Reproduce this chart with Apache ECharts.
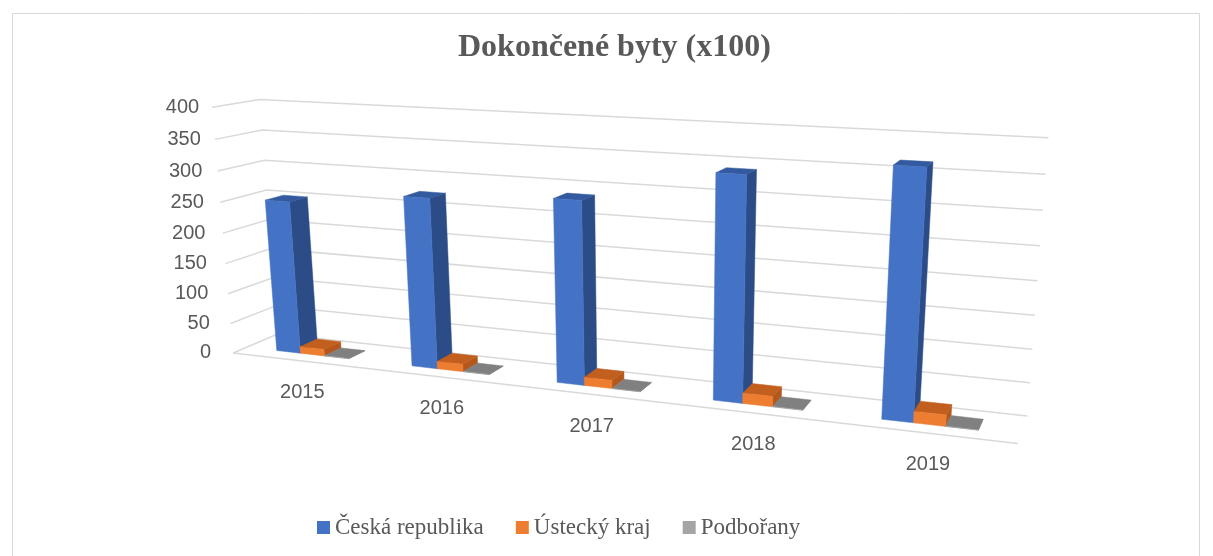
<!DOCTYPE html>
<html><head><meta charset="utf-8">
<script src="https://cdn.jsdelivr.net/npm/echarts/dist/echarts.min.js"></script>
<style>html,body{margin:0;padding:0;background:#fff}#chart{width:1213px;height:556px}</style>
</head><body><div id="chart"></div>
<script>
// ---------- data ----------
const years = ['2015', '2016', '2017', '2018', '2019'];
const ceskaRepublika = [251, 273, 286, 339, 364];
const usteckyKraj = [11, 12, 13, 16, 17];
const podborany = [0.2, 0.2, 0.2, 0.3, 0.3];
const yTicks = [0, 50, 100, 150, 200, 250, 300, 350, 400];
const seriesNames = ['Česká republika', 'Ústecký kraj', 'Podbořany'];

// ---------- 3-D box calibration (corners of walls: X category units, Y 0..1, Z depth 0..1) ----------
const frameCorners = [
  [0, 0, 0, 233, 353], [0, 0.5, 0, 223, 233], [0, 1, 0, 212, 108], [0, 1, 1, 260, 99],
  [5, 0, 0, 1018, 443], [5, 0, 1, 1027, 416], [5, 0.5, 1, 1038, 282], [5, 1, 1, 1048, 137]
];
function fitProjection(pts) {
  const cu = 640, cv = 280, s = 400;
  const A = [], b = [];
  pts.forEach(([X, Y, Z, u0, v0]) => {
    const u = (u0 - cu) / s, v = (v0 - cv) / s;
    A.push([X, Y, Z, 1, 0, 0, 0, 0, -u * X, -u * Y, -u * Z]); b.push(u);
    A.push([0, 0, 0, 0, X, Y, Z, 1, -v * X, -v * Y, -v * Z]); b.push(v);
  });
  const n = 11, M = [];
  for (let i = 0; i < n; i++) {
    M.push([]);
    for (let j = 0; j <= n; j++) {
      let sum = 0;
      for (let k = 0; k < A.length; k++) sum += A[k][i] * (j < n ? A[k][j] : b[k]);
      M[i].push(sum);
    }
  }
  for (let c = 0; c < n; c++) {
    let piv = c;
    for (let r = c + 1; r < n; r++) if (Math.abs(M[r][c]) > Math.abs(M[piv][c])) piv = r;
    const tmp = M[c]; M[c] = M[piv]; M[piv] = tmp;
    for (let r = 0; r < n; r++) {
      if (r === c) continue;
      const f = M[r][c] / M[c][c];
      for (let j = c; j <= n; j++) M[r][j] -= f * M[c][j];
    }
  }
  const p = M.map((row, i) => row[n] / row[i]);
  return (X, Y, Z) => {
    const w = p[8] * X + p[9] * Y + p[10] * Z + 1;
    return [((p[0] * X + p[1] * Y + p[2] * Z + p[3]) / w) * s + cu,
            ((p[4] * X + p[5] * Y + p[6] * Z + p[7]) / w) * s + cv];
  };
}
const P = fitProjection(frameCorners);

const BAR_W = 0.18, Z_FRONT = 0.3, Z_BACK = 0.7;
const palettes = [
  { front: '#4472C4', side: '#2B4C87', top: '#335A9E', legend: '#4472C4' },
  { front: '#ED7D31', side: '#B4571C', top: '#C25F1E', legend: '#ED7D31' },
  { front: '#A5A5A5', side: '#6F6F6F', top: '#808080', legend: '#A5A5A5' }
];
const textColor = '#595959';

function norm(params, api, idx, val) {
  const cs = params.coordSys;
  const c = api.coord([idx, val]);
  return { xc: (c[0] - cs.x) / cs.width * years.length, yn: (cs.y + cs.height - c[1]) / cs.height };
}

function renderGrid(params, api) {
  const t = api.value(1);
  const { yn } = norm(params, api, 0, t);
  const nC = years.length;
  const children = [{
    type: 'polyline', shape: { points: [P(0, yn, 0), P(0, yn, 1), P(nC, yn, 1)] },
    style: { stroke: '#D9D9D9', lineWidth: 1.5, fill: null }
  }];
  if (t === 0) {
    children.push({ type: 'polyline', shape: { points: [P(0, 0, 0), P(nC, 0, 0)] },
      style: { stroke: '#D9D9D9', lineWidth: 1.5, fill: null } });
  }
  const lp = P(0, yn, 0);
  children.push({ type: 'text', x: lp[0] - 22 + 9 * yn, y: lp[1],
    style: { text: String(t), align: 'right', verticalAlign: 'middle', fill: textColor,
             font: '20px "Liberation Sans"' } });
  return { type: 'group', children };
}

function renderCategory(params, api) {
  const idx = api.value(0);
  const { xc } = norm(params, api, idx, 0);
  const p = P(xc, 0, 0);
  return { type: 'text', x: p[0] + 3, y: p[1] + 32,
    style: { text: years[idx], align: 'center', verticalAlign: 'middle', fill: textColor,
             font: '20px "Liberation Sans"' } };
}

function makeBarRender(sIdx) {
  const pal = palettes[sIdx];
  return function (params, api) {
    const idx = api.value(0), val = api.value(1);
    const { xc, yn } = norm(params, api, idx, val);
    const x0 = xc - 1.5 * BAR_W + sIdx * BAR_W, x1 = x0 + BAR_W;
    const z0 = Z_FRONT, z1 = Z_BACK;
    const poly = (pts, fill) => ({ type: 'polygon', shape: { points: pts },
      style: { fill: fill, stroke: fill, lineWidth: 0.5 } });
    return { type: 'group', children: [
      poly([P(x1, 0, z0), P(x1, 0, z1), P(x1, yn, z1), P(x1, yn, z0)], pal.side),
      poly([P(x0, yn, z0), P(x1, yn, z0), P(x1, yn, z1), P(x0, yn, z1)], pal.top),
      poly([P(x0, 0, z0), P(x1, 0, z0), P(x1, yn, z0), P(x0, yn, z0)], pal.front)
    ] };
  };
}

const valueSets = [ceskaRepublika, usteckyKraj, podborany];

const chart = echarts.init(document.getElementById('chart'), null, { renderer: 'canvas' });
chart.setOption({
  animation: false,
  backgroundColor: '#ffffff',
  graphic: [{ type: 'rect', shape: { x: 12.5, y: 13.5, width: 1187, height: 600 },
    style: { fill: null, stroke: '#D9D9D9', lineWidth: 1 }, silent: true }],
  title: {
    text: 'Dokončené byty (x100)', left: 453, top: 27,
    textStyle: { fontFamily: '"Liberation Serif"', fontWeight: 'bold', fontSize: 32, color: textColor }
  },
  legend: {
    data: seriesNames, left: 312, top: 511, icon: 'rect', itemWidth: 13, itemHeight: 13, itemGap: 32,
    selectedMode: false,
    textStyle: { fontFamily: '"Liberation Serif"', fontSize: 23, color: textColor }
  },
  grid: { left: 0, right: 0, top: 0, bottom: 0, show: false },
  xAxis: { type: 'category', data: years, show: false },
  yAxis: { type: 'value', min: 0, max: 400, interval: 50, show: false },
  series: [
    { type: 'custom', name: 'grid', renderItem: renderGrid, data: yTicks.map(t => [0, t]), silent: true },
    { type: 'custom', name: 'categories', renderItem: renderCategory, data: years.map((y, i) => [i, 0]), silent: true }
  ].concat(seriesNames.map((name, s) => ({
    type: 'custom', name: name, renderItem: makeBarRender(s),
    itemStyle: { color: palettes[s].legend },
    data: valueSets[s].map((v, i) => [i, v])
  })))
});
</script></body></html>
